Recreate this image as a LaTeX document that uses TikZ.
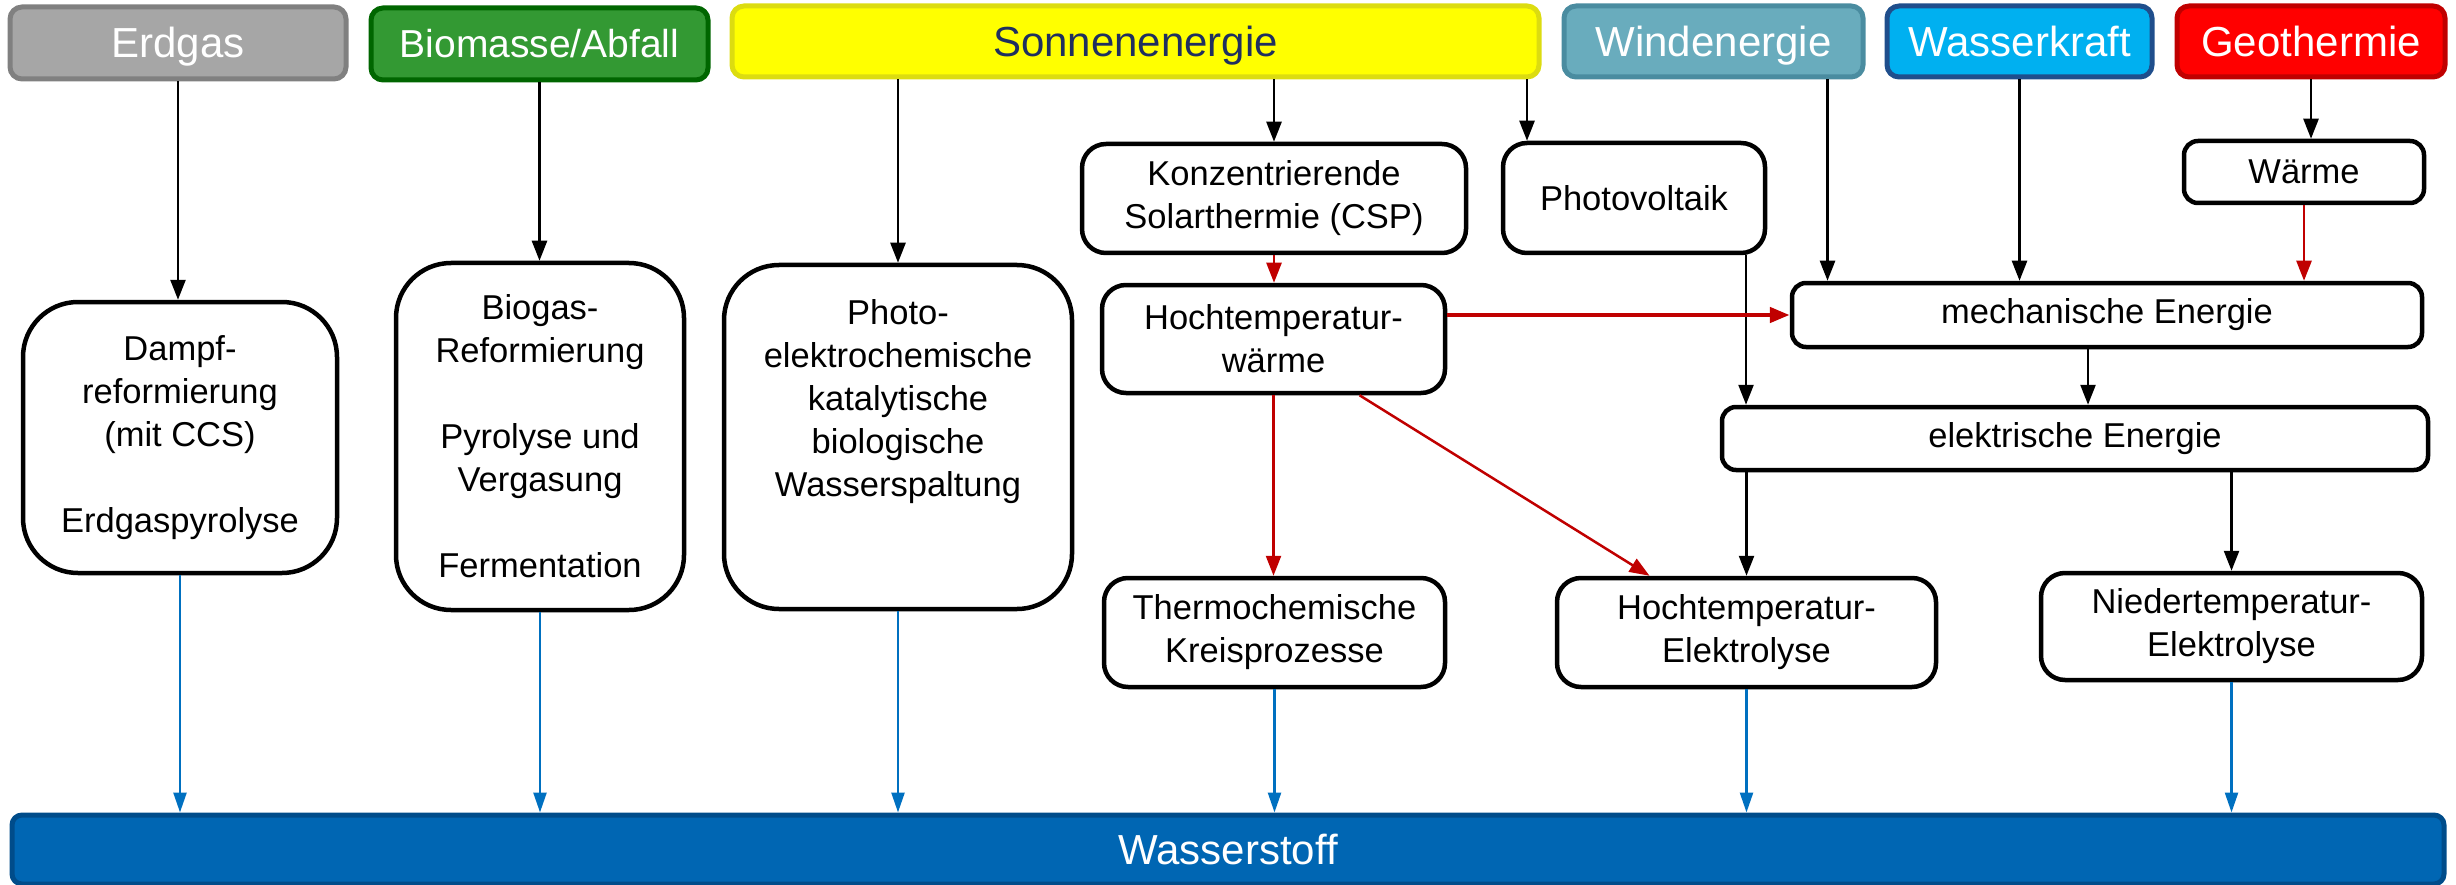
\documentclass[tikz,border=0pt]{standalone}
\usepackage{fontspec}
\setmainfont{Liberation Sans}
\usetikzlibrary{arrows.meta,calc}
\definecolor{erdfill}{HTML}{A6A6A6}
\definecolor{erddraw}{HTML}{808080}
\definecolor{biofill}{HTML}{339933}
\definecolor{biodraw}{HTML}{006600}
\definecolor{sonfill}{HTML}{FFFF00}
\definecolor{sondraw}{HTML}{DCDC10}
\definecolor{sontext}{HTML}{1F2F5F}
\definecolor{windfill}{HTML}{69ACBD}
\definecolor{winddraw}{HTML}{4A8CA0}
\definecolor{wasfill}{HTML}{00B0F0}
\definecolor{wasdraw}{HTML}{1F4E8C}
\definecolor{geofill}{HTML}{FF0000}
\definecolor{geodraw}{HTML}{C00000}
\definecolor{hfill}{HTML}{0066B3}
\definecolor{hdraw}{HTML}{004C8A}
\definecolor{redline}{HTML}{C00000}
\definecolor{blueline}{HTML}{0070C0}
\begin{document}
\begin{tikzpicture}[x=1pt,y=-1pt,
  hdr/.style={draw, line width=5pt, rounded corners=12pt, inner sep=0pt,
    font=\fontsize{42}{48}\selectfont, text=white, text height=30pt, text depth=0pt},
  box/.style={draw=black, line width=4.5pt, fill=white, inner sep=0pt, align=center,
    font=\fontsize{34.5}{43}\selectfont, rounded corners=24pt},
  bigbox/.style={box, rounded corners=55pt},
  flatbox/.style={box, rounded corners=14pt},
  arr/.style={line width=2.5pt, draw=black, -{Triangle[length=20pt,width=15pt]}},
  arrR/.style={line width=2.5pt, draw=redline, -{Triangle[length=20pt,width=15pt]}},
  arrB/.style={line width=2.5pt, draw=blueline, -{Triangle[length=20pt,width=13pt]}}
]
\useasboundingbox (0,0) rectangle (2456,885);

% header boxes
\node[hdr, draw=erddraw, fill=erdfill, minimum width=336pt, minimum height=72pt] (erd) at (178,43) {Erdgas};
\node[hdr, draw=biodraw, fill=biofill, minimum width=337pt, minimum height=72pt,
  font=\fontsize{39}{45}\selectfont, text height=28pt] (bio) at (539.5,44) {Biomasse/Abfall};
\node[hdr, draw=sondraw, fill=sonfill, text=sontext, minimum width=807pt, minimum height=71pt] (sonne) at (1135.5,41.5) {Sonnenenergie};
\node[hdr, draw=winddraw, fill=windfill, minimum width=299pt, minimum height=71pt] (wind) at (1713.5,41.5) {Windenergie};
\node[hdr, draw=wasdraw, fill=wasfill, minimum width=265pt, minimum height=71pt] (wasser) at (2019.5,41.5) {Wasserkraft};
\node[hdr, draw=geodraw, fill=geofill, minimum width=268pt, minimum height=71pt] (geo) at (2311,41.5) {Geothermie};

% process boxes
\node[bigbox, minimum width=314pt, minimum height=271pt] (dampf) at (180,437.5)
  {Dampf-\\reformierung\\(mit CCS)\\[43pt]Erdgaspyrolyse};
\node[bigbox, minimum width=288pt, minimum height=347pt] (biogas) at (540,436.5)
  {Biogas-\\Reformierung\\[43pt]Pyrolyse und\\Vergasung\\[43pt]Fermentation};
\node[bigbox, minimum width=348pt, minimum height=344pt, text depth=79pt] (photo) at (898,437)
  {Photo-\\elektrochemische\\katalytische\\biologische\\Wasserspaltung};
\node[box, minimum width=384pt, minimum height=109pt] (konz) at (1274,198.5)
  {Konzentrierende\\Solarthermie (CSP)};
\node[box, minimum width=262pt, minimum height=110pt] (pv) at (1634,198) {Photovoltaik};
\node[flatbox, minimum width=240pt, minimum height=62pt] (waerme) at (2304,172) {Wärme};
\node[box, minimum width=343pt, minimum height=108pt] (htw) at (1273.5,339)
  {Hochtemperatur-\\wärme};
\node[flatbox, minimum width=630pt, minimum height=64pt] (mech) at (2107,315) {mechanische Energie};
\node[flatbox, minimum width=706pt, minimum height=63pt] (elek) at (2075,438.5) {elektrische Energie};
\node[box, minimum width=341pt, minimum height=109pt] (thermo) at (1274.5,632.5)
  {Thermochemische\\Kreisprozesse};
\node[box, minimum width=379pt, minimum height=109pt] (hte) at (1746.5,632.5)
  {Hochtemperatur-\\Elektrolyse};
\node[box, minimum width=381pt, minimum height=107pt] (nte) at (2231.5,626.5)
  {Niedertemperatur-\\Elektrolyse};

% hydrogen bar
\node[hdr, draw=hdraw, fill=hfill, rounded corners=10pt, minimum width=2432pt, minimum height=69pt] (h2) at (1228,849.5) {Wasserstoff};

% coordinates for off-centre connectors
\coordinate (pvin) at ([xshift=-107pt]pv.north);
\coordinate (pvout) at ([xshift=112pt]pv.south);
\coordinate (windout) at ([xshift=114pt]wind.south);
\coordinate (mechout) at ([xshift=-19pt]mech.south);
\coordinate (htwdiag) at ([xshift=86pt]htw.south);
\coordinate (htediag) at ([xshift=-97pt]hte.north);

% black connectors
\draw[arr] (erd.south) -- (erd.south |- dampf.north);
\draw[arr] (bio.south) -- (bio.south |- biogas.north);
\draw[arr] (photo.north |- sonne.south) -- (photo.north);
\draw[arr] (konz.north |- sonne.south) -- (konz.north);
\draw[arr] (pvin |- sonne.south) -- (pvin);
\draw[arr] (pvout) -- (pvout |- elek.north);
\draw[arr] (hte.north |- elek.south) -- (hte.north);
\draw[arr] (windout) -- (windout |- mech.north);
\draw[arr] (wasser.south) -- (wasser.south |- mech.north);
\draw[arr] (geo.south) -- (geo.south |- waerme.north);
\draw[arr] (mechout) -- (mechout |- elek.north);
\draw[arr] (nte.north |- elek.south) -- (nte.north);

% red connectors
\draw[arrR] (konz.south) -- (konz.south |- htw.north);
\draw[arrR] (waerme.south) -- (waerme.south |- mech.north);
\draw[arrR, line width=4.5pt] (htw.east |- mech.west) -- (mech.west);
\draw[arrR] (htw.south) -- (htw.south |- thermo.north);
\draw[arrR] (htwdiag) -- (htediag);

% blue connectors
\foreach \n in {dampf,biogas,photo,thermo,hte,nte}
  \draw[arrB] (\n.south) -- (\n.south |- h2.north);
\end{tikzpicture}
\end{document}
